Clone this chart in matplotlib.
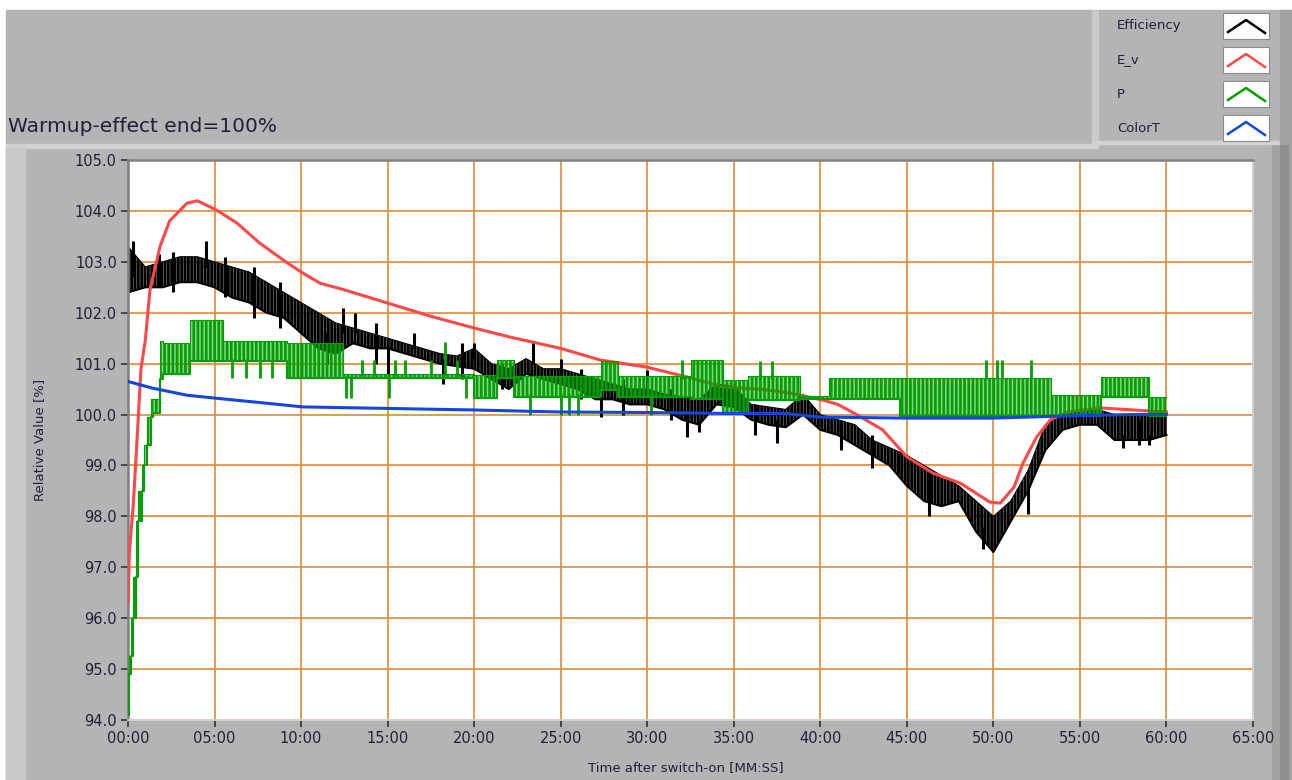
import numpy as np
import matplotlib
matplotlib.use('Agg')
import matplotlib.pyplot as plt
from matplotlib.patches import Rectangle

# E_v (red), time in minutes
ev_t = [0, 0.08, 0.3, 0.5, 0.65, 0.75, 1.0, 1.27, 1.85, 2.4, 3.4, 4.0, 5.1, 6.3, 7.6, 9.2,
        10.1, 11.1, 12.5, 15, 17.5, 20, 22.1, 25, 27.3, 30, 32.5, 34.4, 36.5, 38.3, 40.2,
        41.0, 42.1, 43.6, 45, 46.5, 48.1, 49.8, 50.4, 51.2, 51.7, 52.5, 53.3, 54.3, 56.2,
        58.1, 60]
ev_v = [96.3, 97.3, 98.2, 99.37, 100.3, 100.9, 101.46, 102.45, 103.3, 103.8, 104.15, 104.2,
        104.02, 103.76, 103.37, 102.98, 102.78, 102.58, 102.45, 102.19, 101.93, 101.7, 101.52,
        101.3, 101.07, 100.93, 100.72, 100.54, 100.5, 100.42, 100.28, 100.2, 100.0, 99.7,
        99.17, 98.85, 98.65, 98.28, 98.26, 98.58, 99.04, 99.56, 99.9, 100.05, 100.13,
        100.09, 100.05]

# ColorT (blue)
ct_t = [0, 1.4, 3.4, 5.1, 7.2, 10.1, 15, 20, 25, 30, 35, 38, 40, 45, 50, 52, 55, 58, 60]
ct_v = [100.65, 100.52, 100.38, 100.32, 100.25, 100.15, 100.12, 100.09, 100.05, 100.04,
        100.02, 100.02, 99.95, 99.93, 99.93, 99.95, 99.98, 100.0, 100.0]

# Efficiency (black) - noisy band, low / high edge each minute
eff_t = list(range(0, 61))
eff_lo = [102.4, 102.5, 102.5, 102.6, 102.6, 102.5, 102.3, 102.2, 102.0, 101.9,
          101.6, 101.3, 101.2, 101.4, 101.3, 101.3, 101.2, 101.1, 101.0, 100.95,
          100.9, 100.7, 100.5, 100.8, 100.7, 100.6, 100.5, 100.3, 100.3, 100.2,
          100.2, 100.1, 99.9, 99.8, 100.2, 100.15, 99.9, 99.8, 99.75, 100.0,
          99.7, 99.6, 99.4, 99.2, 99.0, 98.6, 98.3, 98.2, 98.3, 97.7,
          97.3, 97.9, 98.5, 99.3, 99.7, 99.8, 99.8, 99.5, 99.5, 99.5, 99.6]
eff_hi = [103.3, 102.9, 103.0, 103.1, 103.1, 103.0, 102.9, 102.8, 102.6, 102.4,
          102.2, 102.0, 101.8, 101.7, 101.6, 101.5, 101.4, 101.3, 101.2, 101.15,
          101.3, 101.0, 100.9, 101.1, 100.9, 100.9, 100.8, 100.7, 100.6, 100.5,
          100.5, 100.4, 100.35, 100.3, 100.6, 100.55, 100.2, 100.15, 100.1, 100.4,
          100.0, 99.9, 99.8, 99.5, 99.35, 99.2, 99.0, 98.8, 98.6, 98.3,
          98.0, 98.3, 98.9, 99.8, 100.0, 100.1, 100.1, 100.0, 100.0, 100.0, 100.05]
eff_spk_t = [0.3, 1.8, 2.6, 4.5, 5.6, 7.3, 8.8, 11.5, 12.4, 13.1, 14.3, 15.0, 16.5, 18.2,
             19.3, 20.0, 21.6, 23.4, 25.0, 26.2, 27.3, 28.6, 30.0, 31.4, 32.3, 33.0, 36.2,
             37.5, 41.2, 43.0, 44.5, 46.3, 49.4, 52.0, 57.5, 58.4, 59.0]
eff_spk_lo = [102.7, 102.5, 102.4, 102.9, 102.3, 101.9, 101.7, 101.0, 101.6, 101.6, 101.0,
              100.8, 101.3, 100.6, 100.7, 101.1, 100.5, 101.0, 100.8, 100.3, 99.95, 100.0,
              100.4, 99.9, 99.55, 99.65, 99.6, 99.45, 99.3, 98.95, 98.85, 98.0, 97.35,
              98.05, 99.35, 99.4, 99.4]
eff_spk_hi = [103.4, 103.15, 103.2, 103.4, 103.1, 102.9, 102.6, 101.6, 102.1, 102.0, 101.8,
              101.35, 101.6, 101.1, 101.4, 101.4, 101.0, 101.45, 101.1, 100.9, 100.4, 100.7,
              100.87, 100.5, 100.0, 99.9, 100.2, 99.9, 99.9, 99.6, 99.2, 98.9, 97.8, 98.6,
              99.6, 99.9, 99.6]

# P (green) - quantized steps, each value holds until the next time
p_t = [0.0, 0.05, 0.2, 0.3, 0.45, 0.6, 0.8, 0.9, 1.1, 1.3, 1.45, 1.85, 2.0, 3.6, 5.5, 9.2,
       12.4, 20.0, 21.3, 22.3, 27.3, 28.3, 32.5, 34.4, 35.8, 38.8, 40.5, 44.6, 48.8, 53.3,
       56.2, 59.0, 60.0]
p_lo = [94.1, 94.9, 95.25, 96.0, 96.8, 97.9, 98.5, 99.0, 99.4, 99.95, 100.03, 100.7, 100.8,
        101.05, 101.05, 100.72, 100.72, 100.33, 100.72, 100.35, 100.48, 100.35, 100.3,
        100.03, 100.28, 100.3, 100.3, 99.98, 99.98, 99.98, 100.35, 99.98, 99.98]
p_hi = [94.9, 95.25, 96.0, 96.8, 97.9, 98.5, 99.0, 99.4, 99.95, 100.3, 100.3, 101.45, 101.4,
        101.85, 101.45, 101.4, 100.8, 100.78, 101.08, 100.75, 101.05, 100.75, 101.07,
        100.67, 100.75, 100.36, 100.72, 100.72, 100.72, 100.38, 100.74, 100.35, 100.35]
p_spk_t = [6.0, 6.8, 7.6, 8.3, 12.6, 12.9, 13.5, 14.2, 15.1, 15.4, 16.0, 17.5, 18.3, 19.0,
           19.5, 23.2, 25.0, 25.5, 26.0, 30.2, 32.0, 36.5, 37.2, 49.6, 50.2, 50.5, 52.2]
p_spk_lo = [100.72, 100.72, 100.72, 100.72, 100.33, 100.33, 100.75, 100.75, 100.33, 100.75,
            100.75, 100.75, 100.75, 100.75, 100.33, 100.0, 100.0, 100.0, 100.0, 100.0,
            100.7, 100.7, 100.7, 100.7, 100.7, 100.7, 100.7]
p_spk_hi = [101.1, 101.1, 101.1, 101.1, 100.75, 100.75, 101.07, 101.07, 100.75, 101.07,
            101.07, 101.07, 101.43, 101.07, 100.75, 100.4, 100.4, 100.4, 100.4, 100.4,
            101.07, 101.05, 101.05, 101.07, 101.07, 101.07, 101.07]

series_names = ['Efficiency', 'E_v', 'P', 'ColorT']
series_colors = ['#000000', '#ff4848', '#009e00', '#1446dc']

x_ticks = [0, 5, 10, 15, 20, 25, 30, 35, 40, 45, 50, 55, 60, 65]
x_labels = ['00:00', '05:00', '10:00', '15:00', '20:00', '25:00', '30:00', '35:00',
            '40:00', '45:00', '50:00', '55:00', '60:00', '65:00']
y_ticks = [94.0, 95.0, 96.0, 97.0, 98.0, 99.0, 100.0, 101.0, 102.0, 103.0, 104.0, 105.0]

W, H = 1292, 780
plt.rcParams['font.family'] = ['DejaVu Sans']
plt.rcParams['hatch.linewidth'] = 1.9
fig = plt.figure(figsize=(W / 100, H / 100), dpi=100)
fig.patch.set_facecolor('white')
txt_col = '#20203a'

# panel background, drawn in pixel coordinates (y down)
bg = fig.add_axes([0, 0, 1, 1], zorder=0)
bg.set_xlim(0, W)
bg.set_ylim(H, 0)
bg.axis('off')
bg.add_patch(Rectangle((6, 10), W - 6, H - 10, color='#b4b4b4'))
bg.add_patch(Rectangle((6, 144), 1092, 4, color='#d2d2d2'))
bg.add_patch(Rectangle((6, 148), 19, H - 148, color='#c9c9c9'))
bg.add_patch(Rectangle((1272, 144), 20, H - 144, color='#a2a2a2'))
bg.add_patch(Rectangle((1280, 144), 8, H - 144, color='#8e8e8e'))

# legend panel
bg.add_patch(Rectangle((1092, 10), 6, 134, color='#cacaca'))
bg.add_patch(Rectangle((1092, 141), 188, 3, color='#d2d2d2'))
bg.add_patch(Rectangle((1280, 10), 12, 134, color='#a2a2a2'))
for i, (name, col) in enumerate(zip(series_names, series_colors)):
    yc = 26 + i * 34
    bg.text(1117, yc, name, fontsize=9.5, color=txt_col, va='center', ha='left')
    bg.add_patch(Rectangle((1223, yc - 13), 46, 26, facecolor='white',
                           edgecolor='#8a8a8a', lw=0.8))
    bg.plot([1228, 1246, 1265], [yc + 6, yc - 6, yc + 7], color=col, lw=1.8)

fig.text(8 / W, 1 - 127 / H, 'Warmup-effect end=100%', fontsize=14.5,
         color=txt_col, va='center', ha='left')

ax = fig.add_axes([128 / W, 1 - 720 / H, 1125 / W, 560 / H], zorder=1)
ax.set_facecolor('white')
ax.set_xlim(0, 65)
ax.set_ylim(94, 105)
ax.set_xticks(x_ticks)
ax.set_xticklabels(x_labels)
ax.set_yticks(y_ticks)
ax.set_yticklabels(['%.1f' % v for v in y_ticks])
ax.tick_params(direction='out', length=5, width=1.2, color='#333333',
               labelsize=10.5, labelcolor=txt_col, pad=3)
ax.grid(True, color='#e0883a', lw=1.2)
ax.set_axisbelow(True)
for s in ['left', 'top']:
    ax.spines[s].set_color('#808080')
    ax.spines[s].set_linewidth(1.8)
for s in ['right', 'bottom']:
    ax.spines[s].set_color('#d8d8d8')
    ax.spines[s].set_linewidth(1.2)

# Efficiency: noisy band drawn as dense vertical strokes
ax.fill_between(eff_t, eff_lo, eff_hi, color=series_colors[0], alpha=0.55, lw=0, zorder=2)
ax.fill_between(eff_t, eff_lo, eff_hi, facecolor='none', edgecolor=series_colors[0],
                hatch='|||||', lw=0, zorder=2)
ax.plot(eff_t, eff_lo, color=series_colors[0], lw=1.5, zorder=2)
ax.plot(eff_t, eff_hi, color=series_colors[0], lw=0.8, zorder=2)
ax.vlines(eff_spk_t, eff_spk_lo, eff_spk_hi, color=series_colors[0], lw=2.2, zorder=2)
# E_v
ax.plot(ev_t, ev_v, color=series_colors[1], lw=2.2, zorder=3)
# P
ax.fill_between(p_t, p_lo, p_hi, step='post', color=series_colors[2], alpha=0.45, lw=0,
                zorder=4)
ax.fill_between(p_t, p_lo, p_hi, step='post', facecolor='none', edgecolor=series_colors[2],
                hatch='||||', lw=0, zorder=4)
ax.step(p_t, p_lo, where='post', color=series_colors[2], lw=1.5, zorder=4)
ax.step(p_t, p_hi, where='post', color=series_colors[2], lw=0.8, zorder=4)
ax.vlines(p_spk_t, p_spk_lo, p_spk_hi, color=series_colors[2], lw=2, zorder=4)
# ColorT
ax.plot(ct_t, ct_v, color=series_colors[3], lw=2.2, zorder=5)

ax.set_ylabel('Relative Value [%]', fontsize=9.5, color=txt_col)
ax.yaxis.set_label_coords(-0.073, 0.5)
ax.set_xlabel('Time after switch-on [MM:SS]', fontsize=9.5, color=txt_col)
ax.xaxis.set_label_coords(0.496, -0.074)

fig.savefig('out.png', dpi=100, facecolor=fig.get_facecolor())
